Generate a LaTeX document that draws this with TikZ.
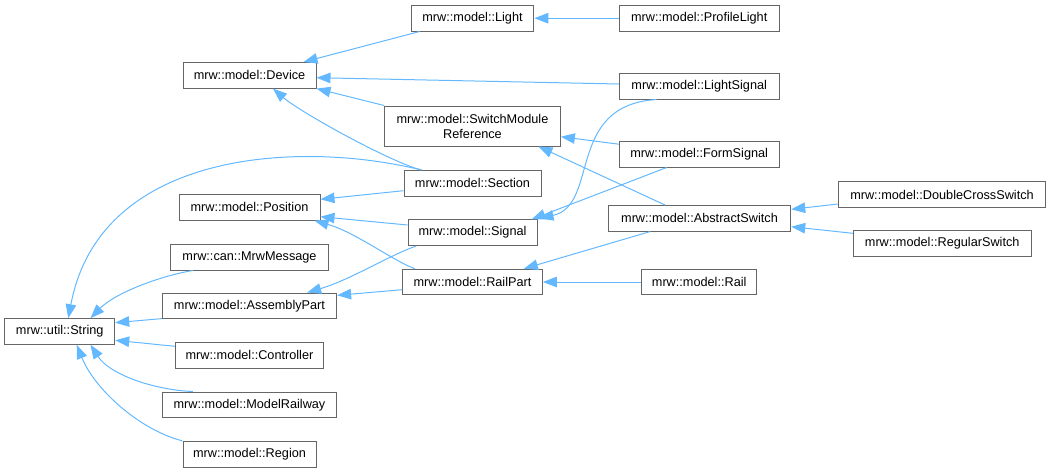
\documentclass[tikz,border=0pt]{standalone}
\usepackage{fontspec}
\setmainfont{Liberation Sans}
\usetikzlibrary{arrows.meta}
\definecolor{cedge}{HTML}{63B8FF}
\definecolor{cgrey}{HTML}{666666}
\tikzset{
  every picture/.style={line width=1pt},
  cls/.style={draw=cgrey, fill=white, minimum width=#1pt, minimum height=25.6pt, inner sep=0pt, align=center, font=\fontsize{12.7}{15}\selectfont},
  inh/.style={-{Triangle[length=14pt, width=10.5pt]}, draw=cedge},
}
\begin{document}
\begin{tikzpicture}[x=1pt, y=-1pt]
  \useasboundingbox (0,0) rectangle (1051,472);
  \node[cls=110]   (str)  at (59.7,331.5)  {mrw::util::String};
  \node[cls=133]   (dev)  at (249.5,75.3)  {mrw::model::Device};
  \node[cls=141]   (pos)  at (249.5,207.3) {mrw::model::Position};
  \node[cls=157.7] (msg)  at (249.5,257.2) {mrw::can::MrwMessage};
  \node[cls=174.3] (asm)  at (249.5,305.8) {mrw::model::AssemblyPart};
  \node[cls=148]   (ctl)  at (249.5,355.3) {mrw::model::Controller};
  \node[cls=173.7] (mrl)  at (249.5,404.8) {mrw::model::ModelRailway};
  \node[cls=133]   (rgn)  at (249.5,454.2) {mrw::model::Region};
  \node[cls=122.7] (lgt)  at (472.5,18.2)  {mrw::model::Light};
  \node[cls=175.7, minimum height=40pt] (smr) at (472.5,126) {mrw::model::SwitchModule\\Reference};
  \node[cls=137]   (sec)  at (472.5,183.3) {mrw::model::Section};
  \node[cls=129]   (sig)  at (472.5,232.7) {mrw::model::Signal};
  \node[cls=139.7] (rpt)  at (472.5,282)   {mrw::model::RailPart};
  \node[cls=159.7] (plt)  at (699.2,18.2)  {mrw::model::ProfileLight};
  \node[cls=159.7] (lsg)  at (699.2,86.2)  {mrw::model::LightSignal};
  \node[cls=159.7] (fsg)  at (699.2,154.2) {mrw::model::FormSignal};
  \node[cls=182.4] (asw)  at (699.5,218.3) {mrw::model::AbstractSwitch};
  \node[cls=115]   (rail) at (699.2,282)   {mrw::model::Rail};
  \node[cls=207.4] (dcs)  at (942,194.5)   {mrw::model::DoubleCrossSwitch};
  \node[cls=177.7] (rsw)  at (942.2,243.5) {mrw::model::RegularSwitch};

  \draw[inh] (plt) -- (lgt);
  \draw[inh] ([xshift=9pt]lgt.south west) -- ([xshift=-13pt]dev.north east);
  \draw[inh] ([yshift=2.2pt]lsg.west) -- ([yshift=-2.4pt]dev.east);
  \draw[inh] (smr.north west) -- (dev.south east);
  \draw[inh] ([xshift=-51pt]sec.north) .. controls (390,162) and (300,112) .. ([xshift=23.5pt]dev.south);
  \draw[inh] ([xshift=-51pt]sec.north) .. controls (300,140) and (100,150) .. ([xshift=8.6pt]str.north);
  \draw[inh] ([yshift=-7.4pt]sec.west) -- ([yshift=8pt]pos.east);
  \draw[inh] ([yshift=7.7pt]sig.west) -- ([yshift=-9.4pt]pos.east);
  \draw[inh] ([xshift=-57.5pt]rpt.north) .. controls (395,262) and (355,232) .. ([xshift=-6pt]pos.south east);
  \draw[inh] ([yshift=10pt]fsg.west) -- ([yshift=-10.7pt]smr.east);
  \draw[inh] ([xshift=-34.5pt]asw.north) -- ([xshift=66pt]smr.south);
  \draw[inh] ([xshift=-42.5pt]lsg.south) .. controls (565,105) and (600,205) .. ([xshift=2pt, yshift=1pt]sig.north east);
  \draw[inh] ([xshift=-32.5pt]fsg.south) -- ([xshift=-6pt]sig.north east);
  \draw[inh] ([xshift=-49.5pt]asw.south) -- ([xshift=-19pt]rpt.north east);
  \draw[inh] (rail) -- (rpt);
  \draw[inh] ([yshift=-7.7pt]rpt.west) -- ([yshift=10.5pt]asm.east);
  \draw[inh] ([xshift=8.7pt]sig.south west) .. controls (390,255) and (350,280) .. ([xshift=-30pt]asm.north east);
  \draw[inh] ([yshift=-9.5pt]dcs.west) -- ([yshift=9pt]asw.east);
  \draw[inh] ([yshift=10.2pt]rsw.west) -- ([yshift=-8.4pt]asw.east);
  \draw[inh] ([xshift=22.6pt]msg.south west) .. controls (160,276) and (115,293) .. ([xshift=-24.7pt]str.north east);
  \draw[inh] ([yshift=0.5pt]asm.south west) -- ([yshift=8.8pt]str.east);
  \draw[inh] ([yshift=9pt]ctl.west) -- ([yshift=-8.8pt]str.east);
  \draw[inh] ([xshift=30.7pt]mrl.north west) .. controls (155,390) and (110,375) .. ([xshift=-24.7pt]str.south east);
  \draw[inh] (rgn.north west) .. controls (140,430) and (95,390) .. ([xshift=17pt]str.south);
\end{tikzpicture}
\end{document}
